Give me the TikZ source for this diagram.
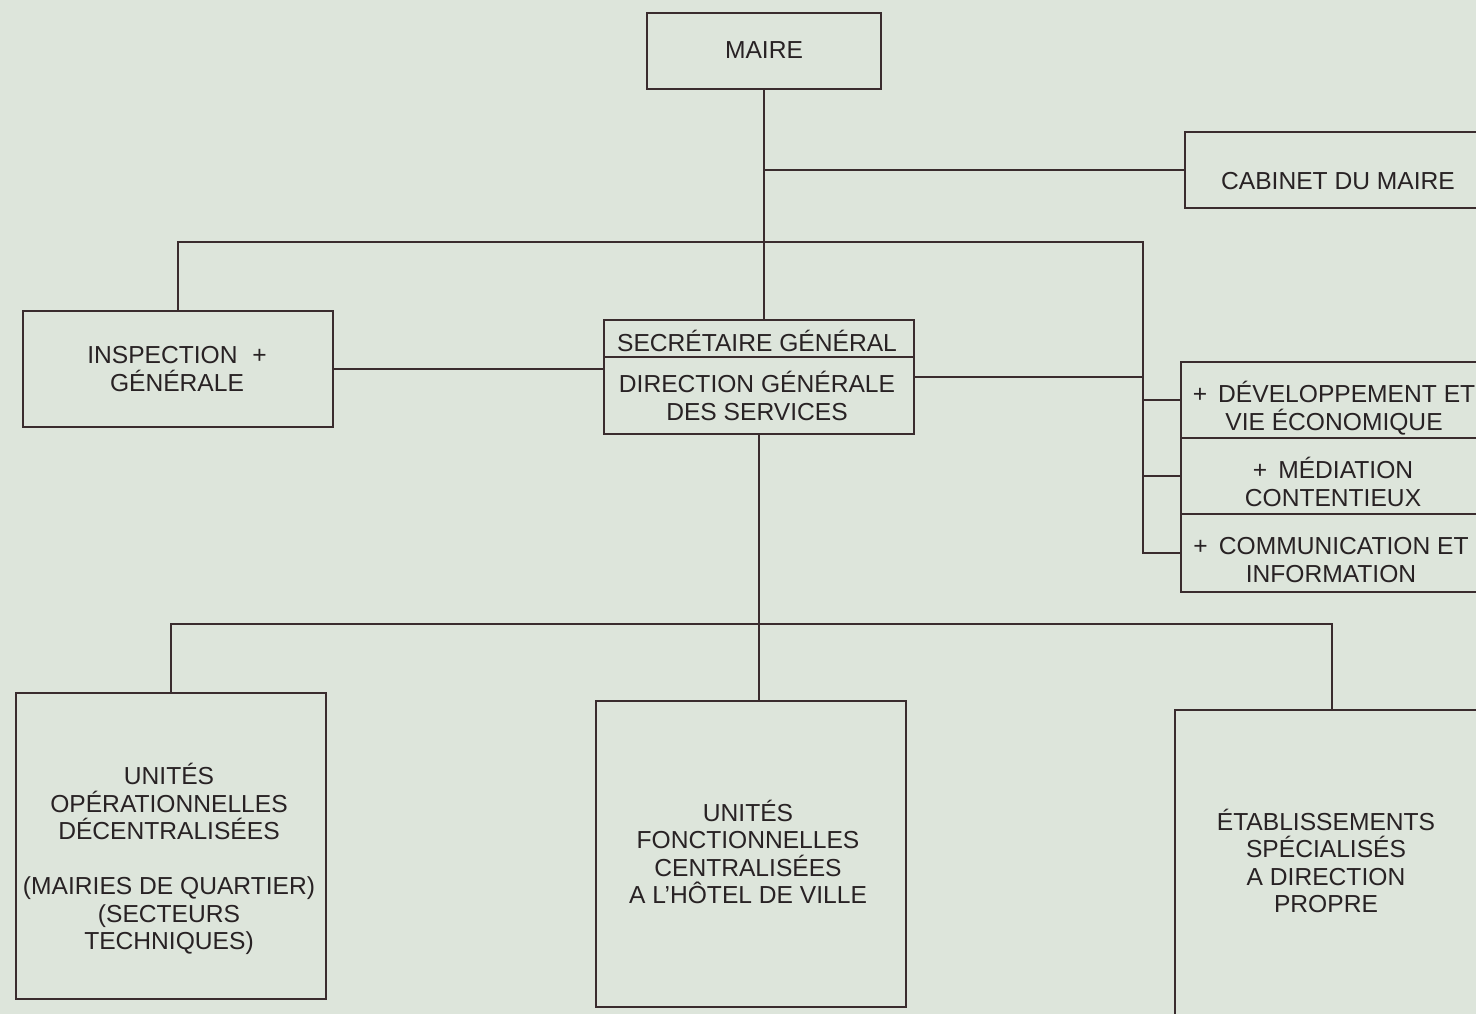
\documentclass[tikz,border=0pt]{standalone}
\usepackage{fontspec}
\setmainfont{Liberation Sans}
\definecolor{bg}{RGB}{221,229,219}
\definecolor{ink}{RGB}{58,44,46}
\definecolor{txt}{RGB}{40,34,36}
\begin{document}
\begin{tikzpicture}[x=1pt,y=-1pt,
  box/.style={draw=ink,line width=2pt,rectangle,inner sep=0pt},
  lbl/.style={text=txt,font=\fontsize{24.6}{27.5}\selectfont,align=center,inner sep=0pt},
  conn/.style={draw=ink,line width=2pt}]
\fill[bg] (0,0) rectangle (1476,1014);
\useasboundingbox (0,0) rectangle (1476,1014);
\clip (0,0) rectangle (1476,1014);

% boxes
\node[box,minimum width=234,minimum height=76] (maire) at (764,51) {};
\node[box,minimum width=316,minimum height=76] (cab) at (1343,170) {};
\node[box,minimum width=310,minimum height=116] (insp) at (178,369) {};
\node[box,minimum width=310,minimum height=114] (sg) at (759,377) {};
\node[box,minimum width=306,minimum height=76] (dev) at (1334,400) {};
\node[box,minimum width=306,minimum height=76] (med) at (1334,476) {};
\node[box,minimum width=306,minimum height=78] (com) at (1334,553) {};
\node[box,minimum width=310,minimum height=306] (uo) at (171,846) {};
\node[box,minimum width=310,minimum height=306] (uf) at (751,854) {};
\node[box,minimum width=314,minimum height=310] (et) at (1332,865) {};

% texts
\node[lbl] (tmaire) at (764,50) {MAIRE};
\node[lbl] (tcab) at (1338,181) {CABINET DU MAIRE};
\node[lbl] (tinsp) at (177,369) {INSPECTION\hspace{0.6em}+\\GÉNÉRALE};
\node[lbl] (tsg1) at (757,341) {SECRÉTAIRE GÉNÉRAL};
\node[lbl] (tsg2) at (757,396) {DIRECTION GÉNÉRALE\\DES SERVICES};
\node[lbl] (tdev) at (1334,408) {+\hspace{0.45em}DÉVELOPPEMENT ET\\VIE ÉCONOMIQUE};
\node[lbl] (tmed) at (1333,482) {+\hspace{0.45em}MÉDIATION\\CONTENTIEUX};
\node[lbl] (tcom) at (1331,560) {+\hspace{0.45em}COMMUNICATION ET\\INFORMATION};
\node[lbl] (tuo) at (169,859) {UNITÉS\\OPÉRATIONNELLES\\DÉCENTRALISÉES\\[27.5pt](MAIRIES DE QUARTIER)\\(SECTEURS\\TECHNIQUES)};
\node[lbl] (tuf) at (748,852) {UNITÉS\\FONCTIONNELLES\\CENTRALISÉES\\A L’HÔTEL DE VILLE};
\node[lbl] (tet) at (1326,861) {ÉTABLISSEMENTS\\SPÉCIALISÉS\\A DIRECTION\\PROPRE};

% junction points
\coordinate (railtop) at (1143,242);
\coordinate (hub) at (759,624);

% divider in SG box
\draw[conn] (sg.west |- 0,357) -- (sg.east |- 0,357);

% connectors
\draw[conn] (maire.south) -- (maire.south |- sg.north);
\draw[conn] (maire.south |- cab.west) -- (cab.west);
\draw[conn] (insp.north) -- (insp.north |- railtop) -- (railtop) -- (railtop |- com.west) -- (com.west);
\draw[conn] (insp.east) -- (insp.east -| sg.west);
\draw[conn] (sg.east) -- (sg.east -| railtop);
\draw[conn] (dev.west) -- (dev.west -| railtop);
\draw[conn] (med.west) -- (med.west -| railtop);
\draw[conn] (sg.south) -- (sg.south |- uf.north);
\draw[conn] (uo.north) -- (uo.north |- hub) -- (et.north |- hub) -- (et.north);
\end{tikzpicture}
\end{document}
